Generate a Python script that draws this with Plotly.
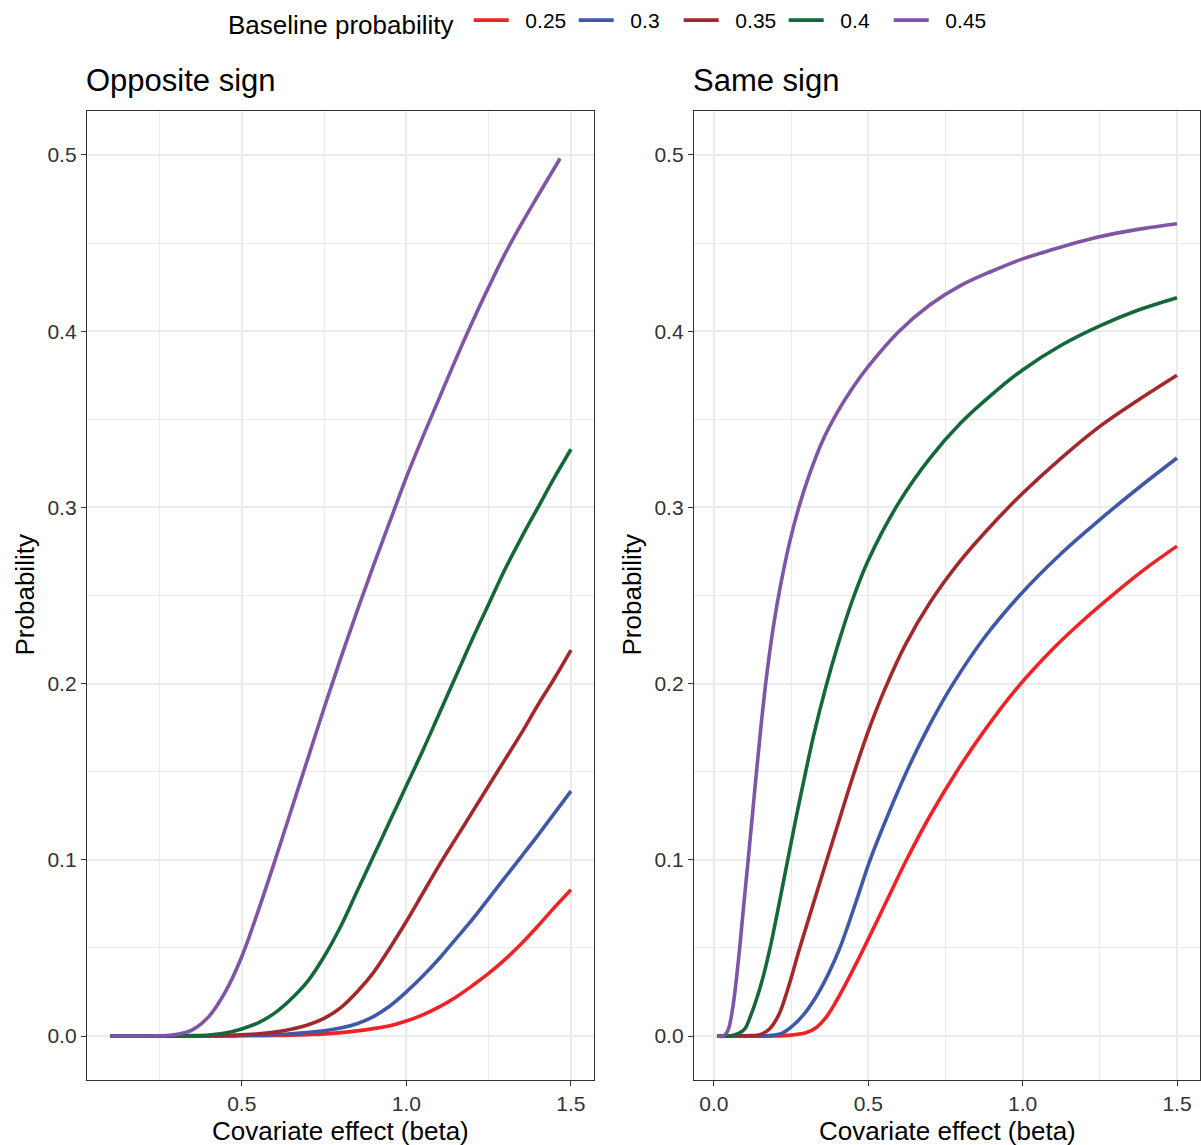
import plotly.graph_objects as go

W, H = 1201, 1145

# ---------------- data ----------------
series_names = ["0.25", "0.3", "0.35", "0.4", "0.45"]
series_colors = ["#EE2326", "#3F59A8", "#A3282C", "#15683A", "#7F55A5"]

# Left panel: "Opposite sign"
opp_x = [0.1, 0.2, 0.3, 0.35, 0.4, 0.45, 0.5, 0.55, 0.6, 0.65, 0.7, 0.75, 0.8, 0.85,
         0.9, 0.95, 1.0, 1.05, 1.1, 1.15, 1.2, 1.25, 1.3, 1.35, 1.4, 1.45, 1.5]
opp_y_025 = [0, 0, 0, 0, 0, 0, 0.0001, 0.0002, 0.0003, 0.0005, 0.0008, 0.0012, 0.0019, 0.0029,
             0.0042, 0.0058, 0.0085, 0.012, 0.0165, 0.022, 0.0285, 0.0355, 0.0435, 0.0525, 0.0625,
             0.073, 0.083]
opp_y_030 = [0, 0, 0, 0, 0, 0.0001, 0.0003, 0.0005, 0.0008, 0.0013, 0.002, 0.003, 0.0045, 0.007,
             0.011, 0.017, 0.025, 0.034, 0.044, 0.055, 0.066, 0.078, 0.09, 0.102, 0.114, 0.1265, 0.139]
opp_y_035 = [0, 0, 0, 0, 0.0001, 0.0003, 0.0007, 0.0012, 0.0022, 0.0038, 0.0062, 0.010, 0.016, 0.025,
             0.036, 0.05, 0.065, 0.081, 0.097, 0.112, 0.127, 0.142, 0.157, 0.172, 0.188, 0.203, 0.219]
opp_y_040 = [0, 0, 0, 0.0002, 0.0006, 0.0017, 0.004, 0.0075, 0.013, 0.021, 0.031, 0.045, 0.062, 0.082,
             0.102, 0.122, 0.142, 0.162, 0.183, 0.204, 0.225, 0.245, 0.265, 0.283, 0.3, 0.317, 0.333]
opp_x_045 = [0.1, 0.2, 0.25, 0.3, 0.35, 0.4, 0.45, 0.5, 0.55, 0.6, 0.65, 0.7, 0.75, 0.8, 0.85,
             0.9, 0.95, 1.0, 1.05, 1.1, 1.15, 1.2, 1.25, 1.3, 1.35, 1.4, 1.467]
opp_y_045 = [0, 0, 0.0001, 0.0008, 0.0035, 0.011, 0.025, 0.045, 0.071, 0.099, 0.128, 0.157, 0.186,
             0.214, 0.241, 0.267, 0.292, 0.317, 0.34, 0.362, 0.384, 0.405, 0.425, 0.444, 0.461,
             0.477, 0.498]

# Right panel: "Same sign"
same_x_025 = [0.01, 0.1, 0.2, 0.25, 0.3, 0.333, 0.365, 0.397, 0.44, 0.489, 0.555, 0.624, 0.7, 0.786,
              0.875, 0.975, 1.1, 1.2, 1.3, 1.4, 1.5]
same_y_025 = [0, 0, 0, 0.0005, 0.002, 0.005, 0.011, 0.02, 0.034, 0.051, 0.075, 0.1, 0.125, 0.15,
              0.173, 0.196, 0.22, 0.2365, 0.2515, 0.2655, 0.278]
same_x_030 = [0.01, 0.1, 0.18, 0.22, 0.25, 0.29, 0.33, 0.37, 0.408, 0.46, 0.506, 0.565, 0.624, 0.7,
              0.775, 0.88, 0.99, 1.12, 1.25, 1.375, 1.5]
same_y_030 = [0, 0, 0.0003, 0.0015, 0.005, 0.012, 0.022, 0.035, 0.05, 0.076, 0.1, 0.126, 0.15, 0.177,
              0.2, 0.227, 0.25, 0.273, 0.293, 0.311, 0.328]
same_x_035 = [0.01, 0.08, 0.12, 0.15, 0.18, 0.21, 0.24, 0.278, 0.32, 0.366, 0.405, 0.446, 0.5, 0.554,
              0.62, 0.7, 0.8, 0.9, 1.0, 1.125, 1.25, 1.375, 1.5]
same_y_035 = [0, 0, 0.0002, 0.0008, 0.004, 0.012, 0.027, 0.05, 0.074, 0.1, 0.122, 0.145, 0.173, 0.197,
              0.222, 0.246, 0.27, 0.29, 0.308, 0.328, 0.346, 0.361, 0.375]
same_x_040 = [0.01, 0.05, 0.08, 0.1, 0.12, 0.14, 0.16, 0.182, 0.21, 0.238, 0.264, 0.29, 0.325, 0.361,
              0.4, 0.448, 0.5, 0.6, 0.7, 0.8, 0.9, 1.0, 1.125, 1.25, 1.375, 1.5]
same_y_040 = [0, 0, 0.0015, 0.004, 0.012, 0.022, 0.034, 0.05, 0.074, 0.099, 0.122, 0.144, 0.172, 0.197,
              0.221, 0.247, 0.27, 0.303, 0.328, 0.348, 0.364, 0.378, 0.392, 0.403, 0.412, 0.419]
same_x_045 = [0.01, 0.03, 0.045, 0.06, 0.072, 0.084, 0.097, 0.111, 0.124, 0.138, 0.152, 0.167, 0.18,
              0.195, 0.215, 0.245, 0.275, 0.31, 0.35, 0.4, 0.45, 0.5, 0.6, 0.7, 0.8, 0.9, 1.0, 1.1,
              1.2, 1.3, 1.4, 1.5]
same_y_045 = [0, 0, 0.003, 0.015, 0.031, 0.051, 0.075, 0.1, 0.124, 0.15, 0.175, 0.199, 0.217, 0.235,
              0.255, 0.28, 0.3, 0.319, 0.337, 0.354, 0.368, 0.38, 0.4, 0.415, 0.426, 0.434, 0.441,
              0.4465, 0.4515, 0.4555, 0.4585, 0.461]

opp_data = [(opp_x, opp_y_025), (opp_x, opp_y_030), (opp_x, opp_y_035),
            (opp_x, opp_y_040), (opp_x_045, opp_y_045)]
same_data = [(same_x_025, same_y_025), (same_x_030, same_y_030), (same_x_035, same_y_035),
             (same_x_040, same_y_040), (same_x_045, same_y_045)]

panel_titles = ["Opposite sign", "Same sign"]
x_title = "Covariate effect (beta)"
y_title = "Probability"
legend_title = "Baseline probability"

# ---------------- figure ----------------
FONT = "Liberation Sans, Arial, Helvetica, sans-serif"
fig = go.Figure()

for i, (name, color) in enumerate(zip(series_names, series_colors)):
    x, y = opp_data[i]
    fig.add_trace(go.Scatter(x=x, y=y, mode="lines", name="  " + name, legendgroup=name,
                             line=dict(color=color, width=3.6, shape="spline", smoothing=1.0),
                             xaxis="x", yaxis="y", showlegend=True, hoverinfo="skip"))
for i, (name, color) in enumerate(zip(series_names, series_colors)):
    x, y = same_data[i]
    fig.add_trace(go.Scatter(x=x, y=y, mode="lines", name="  " + name, legendgroup=name,
                             line=dict(color=color, width=3.6, shape="spline", smoothing=1.0),
                             xaxis="x2", yaxis="y2", showlegend=False, hoverinfo="skip"))

L1, R1 = 87, 594
L2, R2 = 694, 1200
TOP, BOT = 110, 1080
GRID = "#EBEBEB"

def ax_common():
    return dict(showline=True, mirror=True, linecolor="#333333", linewidth=1.3,
                ticks="outside", ticklen=5, tickwidth=1.3, tickcolor="#333333",
                showgrid=True, gridcolor=GRID, gridwidth=1.6, zeroline=False,
                tickfont=dict(size=21, color="#333333", family=FONT),
                tickformat=".1f", tickmode="linear")

minor_x = dict(tick0=0, dtick=0.25, showgrid=True, gridcolor=GRID, gridwidth=0.9)
minor_y = dict(tick0=0, dtick=0.05, showgrid=True, gridcolor=GRID, gridwidth=0.9)

xa = ax_common()
xa.update(domain=[L1 / W, R1 / W], range=[0.03, 1.57], tick0=0, dtick=0.5, anchor="y", minor=minor_x)
xa2 = ax_common()
xa2.update(domain=[L2 / W, R2 / W], range=[-0.0645, 1.5745], tick0=0, dtick=0.5, anchor="y2", minor=minor_x)
ya = ax_common()
ya.update(domain=[1 - BOT / H, 1 - TOP / H], range=[-0.025, 0.525], tick0=0, dtick=0.1,
          anchor="x", minor=minor_y)
ya2 = ax_common()
ya2.update(domain=[1 - BOT / H, 1 - TOP / H], range=[-0.025, 0.525], tick0=0, dtick=0.1,
           anchor="x2", minor=minor_y)

annotations = []
for left, right, title in [(L1, R1, panel_titles[0]), (L2, R2, panel_titles[1])]:
    annotations.append(dict(text=title, xref="paper", yref="paper", x=(left - 3) / W, y=1 - 80 / H,
                            xanchor="left", yanchor="middle", showarrow=False,
                            font=dict(size=31, color="black", family=FONT)))
    annotations.append(dict(text=x_title, xref="paper", yref="paper", x=(left + right) / 2 / W,
                            y=1 - 1131 / H, xanchor="center", yanchor="middle", showarrow=False,
                            font=dict(size=26, color="black", family=FONT)))
    annotations.append(dict(text=y_title, xref="paper", yref="paper", x=(left - 62) / W,
                            y=1 - (TOP + BOT) / 2 / H, xanchor="center", yanchor="middle",
                            textangle=-90, showarrow=False,
                            font=dict(size=26, color="black", family=FONT)))

fig.update_layout(
    width=W, height=H, autosize=False,
    margin=dict(l=0, r=0, t=0, b=0),
    paper_bgcolor="white", plot_bgcolor="white",
    font=dict(family=FONT, color="black"),
    xaxis=xa, yaxis=ya, xaxis2=xa2, yaxis2=ya2,
    annotations=annotations,
    legend=dict(orientation="h", x=226 / W, xanchor="left", y=1 - 21 / H, yanchor="middle",
                title=dict(text=legend_title + " ", font=dict(size=26, family=FONT, color="black"),
                           side="left"),
                font=dict(size=21, family=FONT, color="black"),
                itemwidth=35, entrywidth=55, bgcolor="rgba(0,0,0,0)", borderwidth=0),
)

fig.write_html("out.html", config={"displayModeBar": False},
               post_script="document.body.style.margin='0';document.body.style.overflow='hidden';")
